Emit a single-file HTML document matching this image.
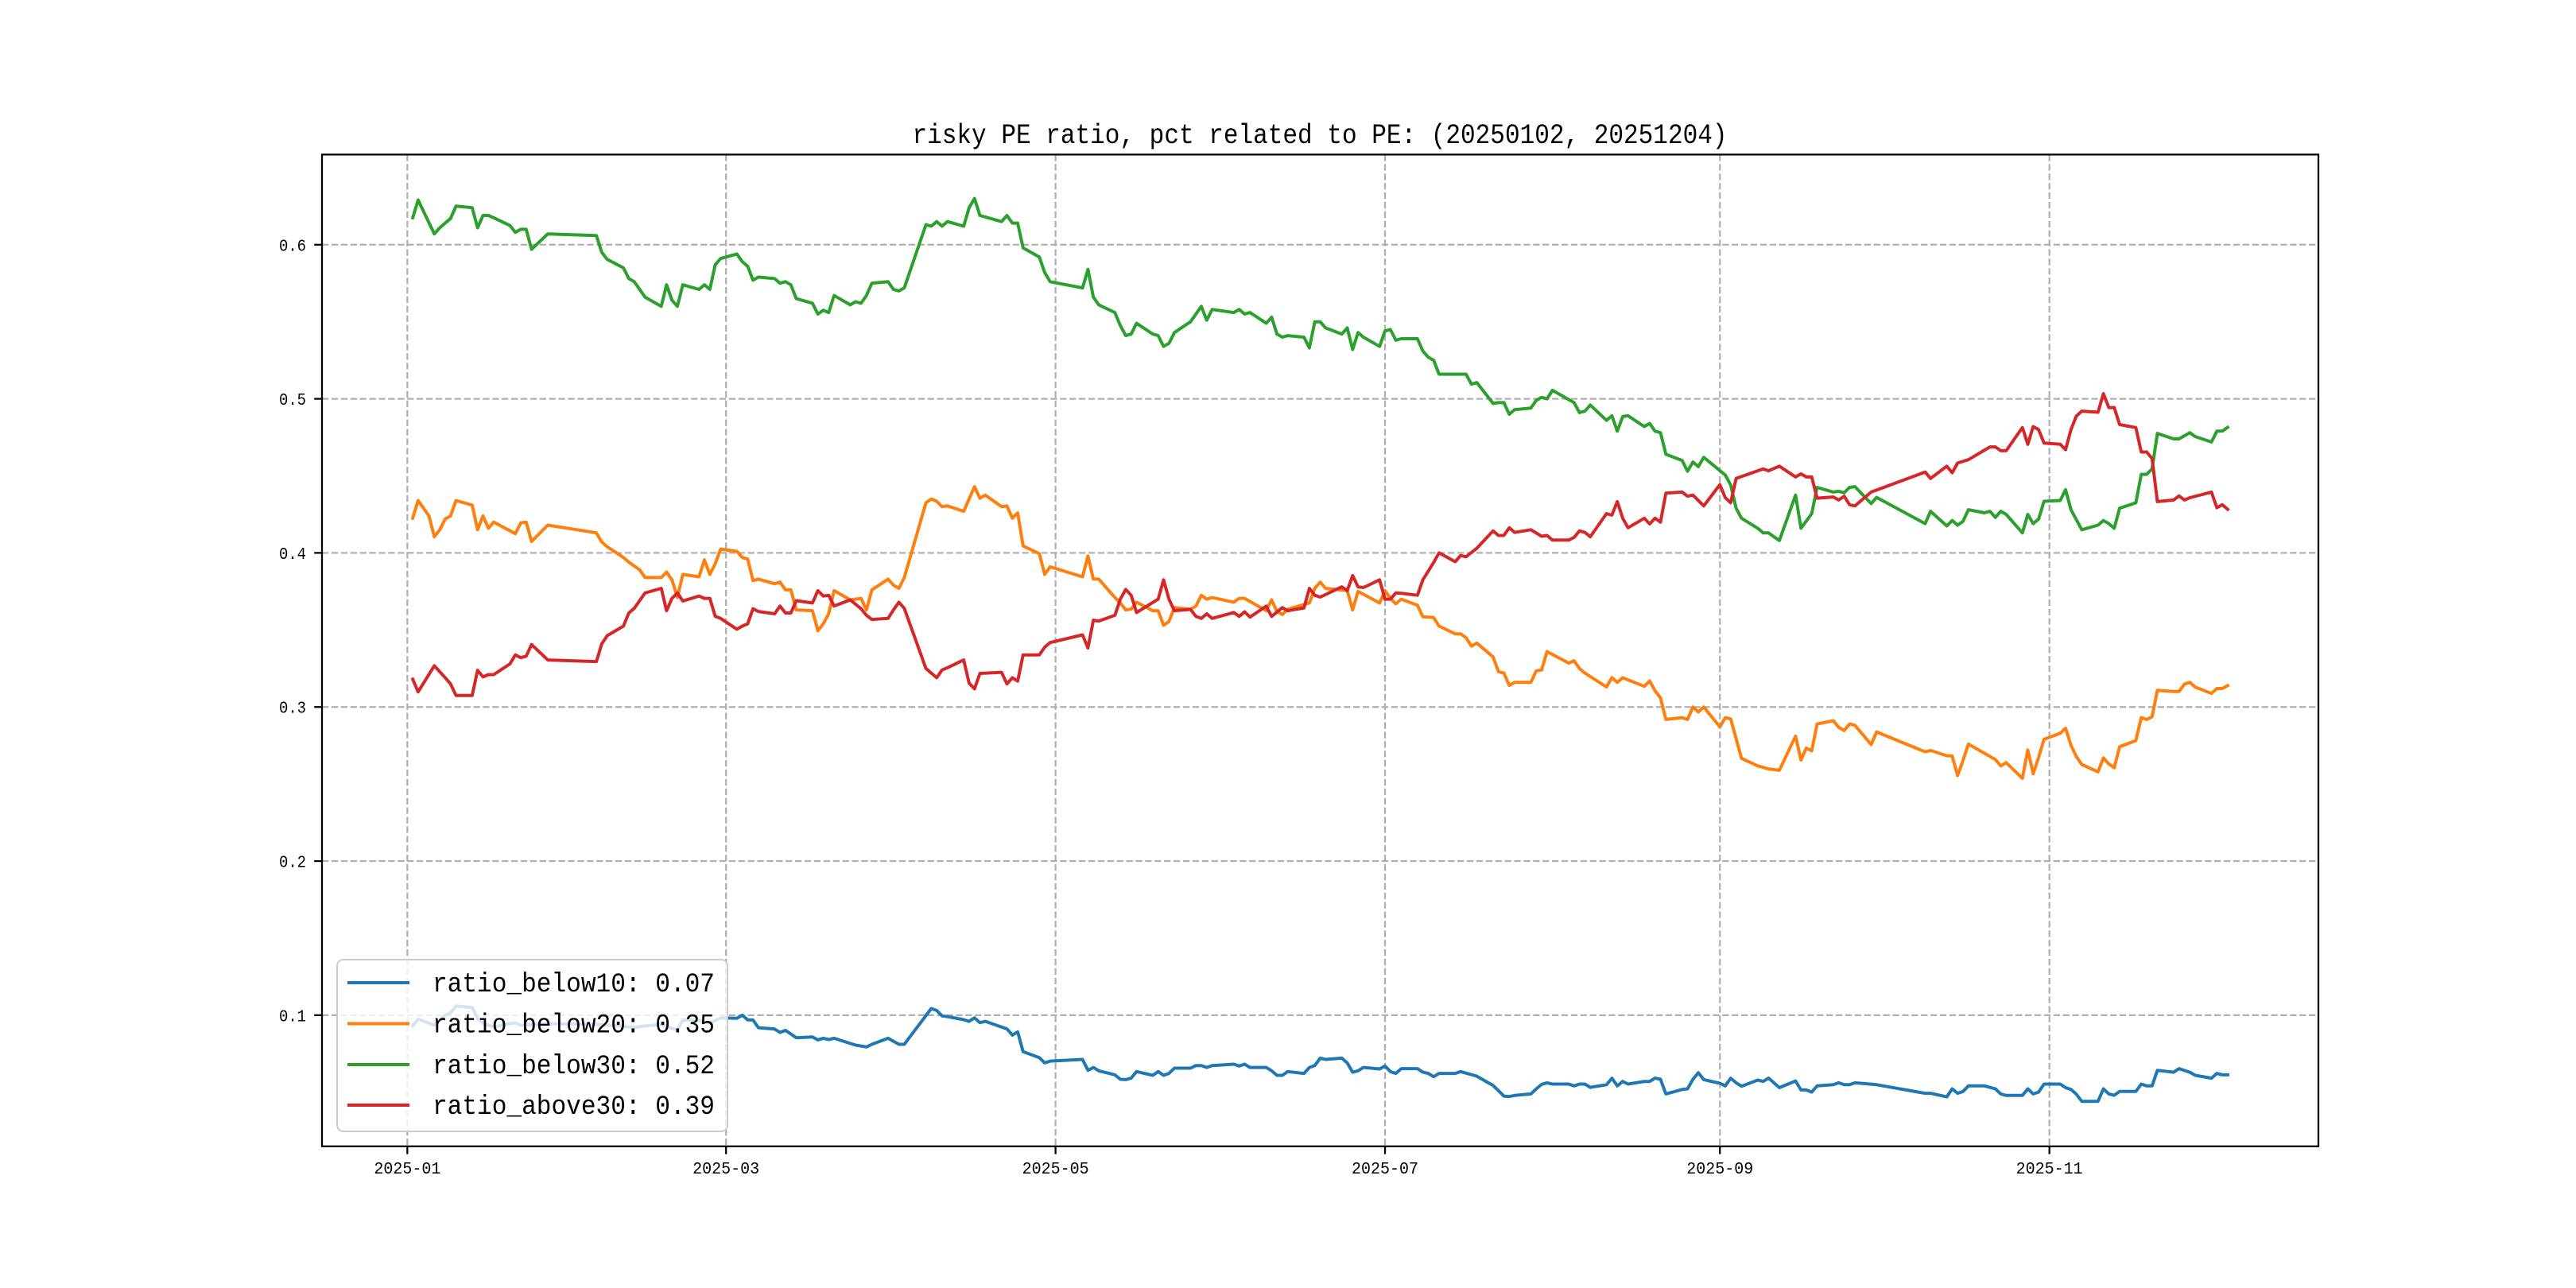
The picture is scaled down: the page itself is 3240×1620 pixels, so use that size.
<!DOCTYPE html>
<html><head><meta charset="utf-8"><style>
html,body{margin:0;padding:0;background:#fff;}
svg{display:block;}
text{font-family:"Liberation Mono","Noto Sans CJK SC",monospace;fill:#000;}
</style></head><body>
<svg id="chart" width="3240" height="1620" viewBox="0 0 3240 1620" xmlns="http://www.w3.org/2000/svg">
<rect x="0" y="0" width="3240" height="1620" fill="#fff"/>
<defs><clipPath id="clip"><rect x="405" y="194.4" width="2511" height="1247.4"/></clipPath></defs>
<text x="1660" y="180" font-size="35" text-anchor="middle" textLength="1025" lengthAdjust="spacingAndGlyphs">risky PE ratio, pct related to PE: (20250102, 20251204)</text>
<g id="grid"></g>
<g id="series" clip-path="url(#clip)"></g>
<rect x="405" y="194.4" width="2511" height="1247.4" fill="none" stroke="#000" stroke-width="2.25"/>
<g id="ticks"></g>
<g id="legend"></g>
</svg>
<script>
const xTickDays = [0, 59, 120, 181, 243, 304];
const xTickLabels = ["2025-01","2025-03","2025-05","2025-07","2025-09","2025-11"];
const yTickVals = [0.1, 0.2, 0.3, 0.4, 0.5, 0.6];
const yTickLabels = ["0.1","0.2","0.3","0.4","0.5","0.6"];
const seriesNames = ["ratio_below10","ratio_below20","ratio_below30","ratio_above30"];
const latestLabels = ["0.07","0.35","0.52","0.39"];
const seriesColors = ["#1f77b4","#ff7f0e","#2ca02c","#d62728"];

const blueDays = [1,2,5,7,8,9,12,13,14,16,19,20,21,26,35,39,42,44,47,49,50,51,54,56,58,61,62,63,64,65,68,69,70,72,75,76,77,78,79,83,85,86,89,91,92,97,98,99,100,103,104,105,106,107,111,112,113,114,117,118,119,125,126,127,128,131,132,133,134,135,138,139,140,141,142,145,146,147,148,149,153,154,155,156,159,160,161,162,163,166,167,168,169,170,173,174,175,176,177,180,181,182,183,184,187,188,189,190,191,194,195,198,201,202,203,204,205,208,209,210,211,212,215,216,217,218,219,222,223,224,225,226,229,230,231,232,233,236,237,238,239,240,243,244,245,246,247,250,251,252,254,257,258,259,260,261,264,265,266,267,268,272,281,282,285,286,287,288,289,292,294,295,296,299,300,301,302,303,306,307,308,309,310,313,314,315,316,317,320,321,322,323,324,327,328,330,331,334,335,336,337];
const blueVals = [.0931,.0974,.0935,.100,.1014,.106,.105,.098,.0948,.0923,.0945,.095,.0935,.0945,.094,.093,.092,.093,.094,.0914,.0905,.0969,.0966,.0948,.0983,.098,.100,.097,.0969,.0919,.091,.0888,.0902,.0854,.0859,.084,.085,.0842,.085,.0806,.0794,.0811,.085,.0811,.0811,.1043,.1031,.0995,.0991,.0971,.096,.0983,.0952,.096,.0911,.0871,.0892,.0763,.0725,.069,.0702,.0713,.0642,.0661,.0639,.0613,.0584,.0582,.0591,.0634,.061,.0634,.061,.0622,.0656,.0656,.0673,.0673,.0661,.0673,.0682,.067,.0682,.0661,.0661,.0639,.061,.061,.0634,.0622,.0661,.0673,.0721,.0713,.0721,.069,.063,.0639,.0661,.0651,.067,.0634,.0622,.0653,.0653,.063,.0622,.0601,.0622,.0622,.0634,.0604,.0544,.051,.0475,.0472,.0479,.0489,.0522,.0551,.0561,.0553,.0553,.0541,.0553,.0553,.0532,.0549,.0591,.0541,.057,.0553,.057,.057,.0592,.0584,.0489,.0518,.0522,.0584,.0627,.0582,.0558,.0541,.0591,.0561,.0539,.0579,.057,.0592,.053,.0573,.0515,.0515,.0501,.0541,.0549,.0561,.0549,.0549,.0561,.0549,.0493,.0493,.047,.0522,.0493,.0505,.0541,.0541,.0522,.0489,.0479,.0479,.0522,.0489,.0501,.0553,.0553,.053,.0518,.0487,.0441,.0441,.0522,.0489,.048,.0505,.0505,.0553,.0541,.0541,.0642,.063,.0653,.063,.061,.0591,.0622,.0613,.0613];

const orangeDays = [1,2,4,5,6,7,8,9,12,13,14,15,16,20,21,22,23,26,35,36,37,40,41,43,44,47,48,49,50,51,54,55,56,57,58,61,62,63,64,65,68,69,70,71,72,75,76,77,78,79,82,84,85,86,89,90,91,92,96,97,98,99,100,103,104,105,106,107,110,111,112,113,114,117,118,119,125,126,127,128,131,132,133,134,135,138,139,140,141,142,145,146,147,148,149,153,154,155,159,160,161,162,163,167,168,169,170,174,175,176,180,181,182,183,184,187,188,190,191,194,195,196,197,198,201,202,203,204,205,208,209,210,211,215,216,217,218,222,223,224,225,229,230,231,232,233,236,237,238,239,240,243,244,245,247,250,252,254,257,258,259,260,261,264,265,266,267,268,271,272,281,282,285,286,287,288,289,294,295,296,299,300,301,302,303,306,307,308,309,310,313,314,315,316,317,320,321,322,323,324,327,328,329,330,331,334,335,336,337];
const orangeVals = [.4225,.434,.424,.4105,.415,.422,.424,.434,.431,.415,.424,.416,.420,.4125,.4195,.420,.4075,.418,.413,.407,.404,.397,.394,.389,.384,.384,.3875,.3825,.371,.386,.3845,.3955,.386,.393,.4025,.401,.397,.396,.382,.383,.380,.381,.376,.376,.363,.3625,.3495,.354,.3605,.3755,.3695,.3705,.363,.376,.383,.379,.377,.384,.4325,.435,.4335,.430,.4305,.427,.435,.443,.4355,.4375,.430,.4305,.4225,.426,.4045,.3995,.386,.391,.3845,.398,.383,.383,.371,.3675,.363,.3635,.368,.3625,.3625,.353,.3555,.3645,.3635,.3655,.3725,.370,.371,.368,.3705,.3705,.3625,.3695,.362,.360,.3635,.3675,.377,.381,.377,.3755,.363,.375,.3675,.3755,.3705,.367,.370,.366,.3585,.358,.3525,.3475,.3475,.345,.3395,.3415,.3325,.323,.322,.314,.316,.316,.3235,.324,.336,.3285,.330,.325,.322,.313,.319,.316,.319,.3134,.3169,.3105,.306,.2919,.2931,.2919,.300,.2967,.300,.2871,.2931,.2923,.2667,.2618,.2598,.2589,.2811,.2656,.2733,.2716,.289,.2911,.2868,.2847,.289,.2881,.2756,.2838,.2709,.2718,.2684,.2682,.2555,.2653,.2759,.2659,.2618,.2639,.2537,.2721,.2567,.2673,.279,.283,.2862,.2752,.2678,.2627,.2579,.267,.263,.2606,.2742,.2782,.2931,.2919,.2936,.3108,.310,.310,.3148,.316,.3129,.3088,.312,.312,.3139];

const greenDays = [1,2,5,6,8,9,12,13,14,15,16,19,20,21,22,23,26,35,36,37,40,41,42,44,47,48,49,50,51,54,55,56,57,58,61,62,63,64,65,68,69,70,71,72,75,76,77,78,79,82,83,84,85,86,89,90,91,92,96,97,98,99,100,103,104,105,106,110,111,112,113,114,117,118,119,125,126,127,128,131,132,133,134,135,138,139,140,141,142,145,147,148,149,153,154,155,156,159,160,161,162,163,166,167,168,169,170,173,174,175,176,177,180,181,182,183,184,187,188,189,190,191,196,197,198,201,202,203,204,205,208,209,210,211,212,216,217,218,219,222,223,224,225,226,229,230,231,232,233,236,237,238,239,240,244,245,246,247,250,251,252,254,257,258,260,261,264,265,266,267,268,271,272,281,282,285,286,287,288,289,292,293,294,295,296,299,300,301,302,303,306,307,308,310,313,314,315,316,317,320,321,322,323,324,327,328,330,331,334,335,336,337];
const greenVals = [.6175,.629,.607,.611,.617,.625,.624,.611,.619,.619,.6175,.6125,.608,.610,.610,.597,.607,.606,.595,.5905,.585,.578,.576,.566,.560,.574,.564,.560,.574,.571,.574,.571,.587,.591,.594,.589,.586,.577,.579,.578,.575,.576,.574,.565,.562,.555,.5575,.556,.567,.561,.563,.562,.567,.575,.576,.571,.570,.572,.613,.612,.615,.612,.615,.612,.624,.630,.619,.615,.619,.614,.614,.598,.592,.582,.576,.572,.584,.566,.561,.556,.5475,.541,.542,.549,.542,.541,.534,.536,.543,.550,.560,.551,.558,.556,.558,.555,.556,.549,.553,.542,.540,.541,.540,.533,.550,.550,.546,.542,.546,.532,.543,.540,.534,.544,.545,.538,.539,.539,.531,.527,.525,.516,.516,.5095,.5105,.497,.4975,.4975,.490,.493,.494,.499,.501,.500,.5055,.4975,.491,.492,.496,.486,.489,.479,.4885,.489,.482,.484,.479,.478,.464,.460,.453,.459,.456,.462,.4505,.444,.429,.4225,.416,.413,.413,.408,.4375,.416,.4255,.4425,.4395,.440,.439,.4425,.443,.432,.436,.419,.427,.4175,.421,.418,.4205,.428,.426,.427,.423,.427,.425,.413,.425,.419,.422,.4335,.434,.441,.428,.415,.418,.421,.419,.416,.429,.4325,.451,.451,.4545,.4775,.474,.474,.478,.4755,.472,.479,.479,.4815];

const redDays = [1,2,5,7,8,9,12,13,14,15,16,19,20,21,22,23,26,35,36,37,40,41,42,44,47,48,49,50,51,54,55,56,57,58,61,62,63,64,65,68,69,70,71,72,75,76,77,78,79,82,84,85,86,89,90,91,92,96,98,99,100,103,104,105,106,110,111,112,113,114,117,118,119,125,126,127,128,131,132,133,134,135,139,140,141,142,145,146,147,148,149,153,154,155,156,159,160,162,163,166,167,168,169,173,174,175,176,177,180,181,182,183,184,187,188,190,191,194,195,196,198,201,202,203,204,205,208,210,211,212,215,216,217,218,219,222,223,224,225,226,229,230,231,232,233,236,237,238,240,243,244,245,246,251,252,254,257,258,259,260,261,264,265,266,267,268,271,281,282,285,286,287,289,293,294,295,296,299,300,301,302,303,306,307,308,309,310,313,314,315,316,317,320,321,322,323,324,327,328,329,330,334,335,336,337];
const redVals = [.318,.3098,.3268,.319,.315,.3075,.3075,.3238,.3195,.321,.321,.328,.3338,.332,.333,.3405,.3305,.3295,.341,.3463,.3525,.361,.364,.374,.377,.3625,.3705,.374,.3688,.372,.3705,.3705,.3588,.3575,.3505,.3525,.354,.3638,.362,.3605,.3655,.361,.361,.369,.3675,.3755,.372,.3725,.3655,.3695,.3638,.3595,.3568,.3575,.363,.368,.364,.325,.319,.324,.3255,.3305,.3155,.3118,.3218,.3225,.315,.319,.3168,.3338,.3338,.3388,.3418,.3468,.3383,.3563,.3558,.3595,.370,.3763,.3725,.3613,.370,.3825,.370,.3625,.3633,.3588,.3575,.3605,.3575,.3613,.3588,.3618,.3583,.3655,.3588,.3645,.3625,.3643,.377,.3725,.3713,.378,.3755,.3853,.378,.3775,.3825,.370,.370,.374,.3738,.3725,.3825,.3938,.400,.3943,.3983,.3975,.403,.4143,.4113,.4113,.4163,.4133,.415,.4108,.4113,.4083,.4083,.410,.4143,.4133,.4105,.4255,.4245,.4333,.4225,.4163,.4225,.4188,.4225,.420,.4388,.4395,.4368,.4375,.4305,.4443,.4358,.4325,.4483,.4545,.4533,.4563,.4493,.4513,.4493,.4493,.4355,.4363,.4343,.4368,.4313,.4305,.4395,.4525,.4483,.4563,.452,.4583,.4605,.4688,.4688,.4663,.4663,.4813,.4705,.482,.480,.4713,.4705,.467,.480,.4888,.492,.4913,.5033,.4943,.4943,.4833,.4813,.4655,.4655,.4613,.4333,.4343,.437,.4343,.4358,.4395,.4293,.4313,.4283];

const NS = "http://www.w3.org/2000/svg";
const PL = 405, PR = 2916, PT = 194.4, PB = 1441.8;
const XMIN = -15.8, XMAX = 353.8, YMIN = 0.0149, YMAX = 0.6585;
function xScale(d){ return PL + (d - XMIN) / (XMAX - XMIN) * (PR - PL); }
function yScale(v){ return PB - (v - YMIN) / (YMAX - YMIN) * (PB - PT); }
function mk(tag, attrs, parent){ const e = document.createElementNS(NS, tag); for (const k in attrs) e.setAttribute(k, attrs[k]); parent.appendChild(e); return e; }

const grid = document.getElementById('grid');
const ticks = document.getElementById('ticks');
xTickDays.forEach((d, i) => {
  const x = xScale(d);
  const g = mk('line', {x1:x, x2:x, y1:PT, y2:PB, stroke:'#b0b0b0', 'stroke-width':2.25, 'stroke-dasharray':'8.3 3.6'}, grid);
  
  
  const t = mk('line', {x1:x, x2:x, y1:PB, y2:PB+9.8, stroke:'#000', 'stroke-width':2.25}, ticks);
  
  
  const l = mk('text', {x:x, y:1476, 'font-size':21, 'text-anchor':'middle', textLength:84, lengthAdjust:'spacingAndGlyphs'}, ticks);
  l.textContent = xTickLabels[i];
  
  
});
yTickVals.forEach((v, i) => {
  const y = yScale(v);
  const g = mk('line', {x1:PL, x2:PR, y1:y, y2:y, stroke:'#b0b0b0', 'stroke-width':2.25, 'stroke-dasharray':'8.3 3.6'}, grid);
  
  
  const t = mk('line', {x1:PL-9.8, x2:PL, y1:y, y2:y, stroke:'#000', 'stroke-width':2.25}, ticks);
  
  
  const l = mk('text', {x:385, y:y+7.5, 'font-size':21, 'text-anchor':'end', textLength:34, lengthAdjust:'spacingAndGlyphs'}, ticks);
  l.textContent = yTickLabels[i];
  
  
});

const seriesG = document.getElementById('series');
const allDays = [blueDays, orangeDays, greenDays, redDays];
const allVals = [blueVals, orangeVals, greenVals, redVals];
for (let s = 0; s < 4; s++) {
  const pts = allDays[s].map((d, i) => xScale(d).toFixed(1) + ',' + yScale(allVals[s][i]).toFixed(1)).join(' ');
  const p = mk('polyline', {points:pts, fill:'none', stroke:seriesColors[s], 'stroke-width':4, 'stroke-linejoin':'round', 'stroke-linecap':'square'}, seriesG);
  
  
}

const lg = document.getElementById('legend');
const box = mk('rect', {x:424, y:1207, width:491, height:216, rx:8, fill:'#fff', 'fill-opacity':0.8, stroke:'#cccccc', 'stroke-width':2}, lg);


const rowY = [1236, 1287.5, 1339, 1390];
for (let s = 0; s < 4; s++) {
  const ln = mk('line', {x1:437, x2:515, y1:rowY[s], y2:rowY[s], stroke:seriesColors[s], 'stroke-width':4}, lg);
  
  
  const tx = mk('text', {x:544, y:rowY[s]+11, 'font-size':34, textLength:355, lengthAdjust:'spacingAndGlyphs'}, lg);
  tx.textContent = seriesNames[s] + ': ' + latestLabels[s];
  
  
}
</script>
</body></html>
